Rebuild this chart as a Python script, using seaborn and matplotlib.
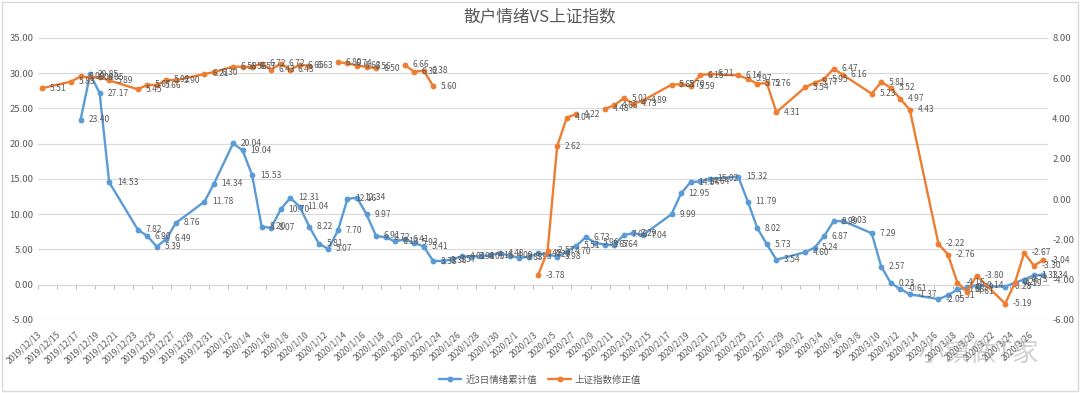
"""
散户情绪 vs 上证指数: two series on twin y axes, date x axis.
"""
import numpy as np
import pandas as pd
import matplotlib
matplotlib.use("Agg")
from matplotlib import pyplot as plt
from matplotlib.lines import Line2D
from matplotlib.patches import Rectangle
from matplotlib.transforms import ScaledTranslation
import seaborn as sns

nan = np.nan

dates = [
    "2019-12-13", "2019-12-16", "2019-12-17", "2019-12-18", "2019-12-19", "2019-12-20",
    "2019-12-23", "2019-12-24", "2019-12-25", "2019-12-26", "2019-12-27",
    "2019-12-30", "2019-12-31",
    "2020-01-02", "2020-01-03", "2020-01-04", "2020-01-05", "2020-01-06", "2020-01-07",
    "2020-01-08", "2020-01-09", "2020-01-10",
    "2020-01-11", "2020-01-12", "2020-01-13", "2020-01-14", "2020-01-15", "2020-01-16",
    "2020-01-17", "2020-01-18", "2020-01-19", "2020-01-20",
    "2020-01-21", "2020-01-22", "2020-01-23", "2020-01-24", "2020-01-25", "2020-01-26",
    "2020-01-27", "2020-01-28", "2020-01-29", "2020-01-30", "2020-01-31",
    "2020-02-01", "2020-02-02", "2020-02-03", "2020-02-04", "2020-02-05", "2020-02-06",
    "2020-02-07", "2020-02-08", "2020-02-09", "2020-02-10", "2020-02-11", "2020-02-12",
    "2020-02-13", "2020-02-14",
    "2020-02-17", "2020-02-18", "2020-02-19", "2020-02-20", "2020-02-21",
    "2020-02-24", "2020-02-25", "2020-02-26", "2020-02-27", "2020-02-28",
    "2020-03-02", "2020-03-03", "2020-03-04", "2020-03-05", "2020-03-06",
    "2020-03-09", "2020-03-10", "2020-03-11", "2020-03-12", "2020-03-13",
    "2020-03-16", "2020-03-17", "2020-03-18", "2020-03-19", "2020-03-20",
    "2020-03-23", "2020-03-24", "2020-03-25", "2020-03-26", "2020-03-27",
]

# 近3日情绪累计值 (left axis)
mood = [
    nan, nan, 23.40, 29.85, 27.17, 14.53,
    7.82, 6.90, 5.39, 6.49, 8.76,
    11.78, 14.34,
    20.04, 19.04, 15.53, 8.20, 8.07, 10.70,
    12.31, 11.04, 8.22,
    5.81, 5.07, 7.70, 12.16, 12.34, 9.97,
    6.91, 6.72, 6.13, 6.41,
    5.93, 5.41, 3.33, 3.38, 3.57, 4.01,
    3.98, 4.05, 4.16, 4.48, 4.09,
    3.83, 3.93, 4.42, 4.29, 3.98, 4.70,
    5.51, 6.73, 5.96, 5.67, 5.64, 7.06,
    7.29, 7.04,
    9.99, 12.95, 14.54, 14.64, 15.02,
    15.32, 11.79, 8.02, 5.73, 3.54,
    4.60, 5.24, 6.87, 8.99, 9.03,
    7.29, 2.57, 0.23, -0.61, -1.37,
    -2.05, -1.51, -0.68, -0.39, -0.14,
    -0.28, 0.27, 0.73, 1.33, 1.34,
]

# 上证指数修正值 (right axis)
index_adj = [
    5.51, 5.83, 6.09, 6.04, 6.05, 5.89,
    5.45, 5.67, 5.66, 5.92, 5.90,
    6.21, 6.30,
    6.58, 6.56, 6.57, 6.72, 6.43, 6.72,
    6.43, 6.65, 6.63,
    nan, nan, 6.80, 6.74, 6.63, 6.56,
    6.50, nan, nan, 6.66,
    6.32, 6.38, 5.60, nan, nan, nan,
    nan, nan, nan, nan, nan,
    nan, nan, -3.78, -2.57, 2.62, 4.04,
    4.22, nan, nan, 4.48, 4.66, 5.01,
    4.73, 4.89,
    5.68, 5.70, 5.59, 6.15, 6.21,
    6.14, 5.97, 5.72, 5.76, 4.31,
    5.54, 5.77, 5.95, 6.47, 6.16,
    5.23, 5.81, 5.52, 4.97, 4.43,
    -2.22, -2.76, -4.16, -4.61, -3.80,
    -5.19, -4.19, -2.67, -3.30, -3.04,
]

mood_name = "近3日情绪累计值"
index_name = "上证指数修正值"
title = "散户情绪VS上证指数"
blue = "#5B9BD5"
orange = "#ED7D31"
grey_text = "#595959"

sns.set_theme(style="white")
plt.rcParams["font.family"] = ["Noto Sans CJK SC", "DejaVu Sans"]
plt.rcParams["axes.unicode_minus"] = False

df = pd.DataFrame({
    # excel date axis puts each point in the middle of its day
    "date": pd.to_datetime(dates) + pd.Timedelta(hours=12),
    mood_name: mood,
    index_name: index_adj,
})

fig = plt.figure(figsize=(10.8, 3.93), dpi=100)
ax = fig.add_axes([0.0349, 0.186, 0.9355, 0.7175])
ax2 = ax.twinx()


def draw_series(axis, col, color):
    s = df[col]
    seg = s.isna().cumsum()
    sub = df.loc[s.notna(), ["date", col]].assign(seg=seg[s.notna()])
    sns.lineplot(data=sub, x="date", y=col, units="seg", estimator=None,
                 ax=axis, color=color, lw=1.7, marker="o", markersize=4.2,
                 markeredgecolor=color, markeredgewidth=0, legend=False)
    for d, v in zip(sub["date"], sub[col]):
        axis.annotate("{0:.2f}".format(v), (d, v), xytext=(5.5, 0),
                      textcoords="offset points", ha="left", va="center",
                      fontsize=6.1, color=grey_text)


draw_series(ax, mood_name, blue)
draw_series(ax2, index_name, orange)

ax.set_ylim(-5, 35)
ax.set_yticks(np.arange(-5, 36, 5))
ax.set_yticklabels(["{0:.2f}".format(t) for t in np.arange(-5, 36, 5)])
ax2.set_ylim(-6, 8)
ax2.set_yticks(np.arange(-6, 9, 2))
ax2.set_yticklabels(["{0:.2f}".format(t) for t in np.arange(-6, 9, 2)])

ax.set_xlim(pd.Timestamp("2019-12-13"), pd.Timestamp("2020-03-28"))
ticks = pd.date_range("2019-12-13", "2020-03-26", freq="2D")
ax.set_xticks(ticks)
ax.set_xticklabels(["{0}/{1}/{2}".format(t.year, t.month, t.day) for t in ticks],
                   rotation=42, ha="right", va="top", rotation_mode="anchor")
shift = ScaledTranslation(0.07, 0, fig.dpi_scale_trans)
for lab in ax.get_xticklabels():
    lab.set_transform(lab.get_transform() + shift)

for a in (ax, ax2):
    a.set_xlabel("")
    a.set_ylabel("")
    for sp in a.spines.values():
        sp.set_visible(False)
    a.tick_params(axis="y", length=0, labelsize=6.8, labelcolor=grey_text, pad=3)
ax.tick_params(axis="x", length=0, labelsize=6.0, labelcolor=grey_text, pad=7)
ax.yaxis.grid(True, color="#D9D9D9", lw=0.8)
ax.xaxis.grid(False)
ax2.grid(False)

# category axis line crosses the left axis at 0
sec = ax.secondary_xaxis(5 / 40)
sec.set_xticks(ticks)
sec.set_xticklabels([])
sec.tick_params(axis="x", length=3, color="#BFBFBF", width=0.8, direction="out")
sec.spines["bottom"].set_color("#BFBFBF")
sec.spines["bottom"].set_linewidth(0.8)

fig.text(0.5, 0.957, title, ha="center", va="center", fontsize=12, color=grey_text)

handles = [
    Line2D([], [], color=blue, lw=1.7, marker="o", markersize=4.2, markeredgewidth=0),
    Line2D([], [], color=orange, lw=1.7, marker="o", markersize=4.2, markeredgewidth=0),
]
fig.legend(handles, [mood_name, index_name], loc="center", bbox_to_anchor=(0.5, 0.033),
           ncol=2, frameon=False, fontsize=6.8, handlelength=2.4, columnspacing=1.2,
           handletextpad=0.4, labelcolor=grey_text)

# watermark
fig.text(0.905, 0.1, "小镇做T家", ha="center", va="center", fontsize=19,
         color="#9A9A9A", alpha=0.45)

fig.patches.append(Rectangle((0.002, 0.004), 0.996, 0.992, transform=fig.transFigure,
                             fill=False, ec="#D9D9D9", lw=1))

fig.savefig("out.png", dpi=100, facecolor="white")
